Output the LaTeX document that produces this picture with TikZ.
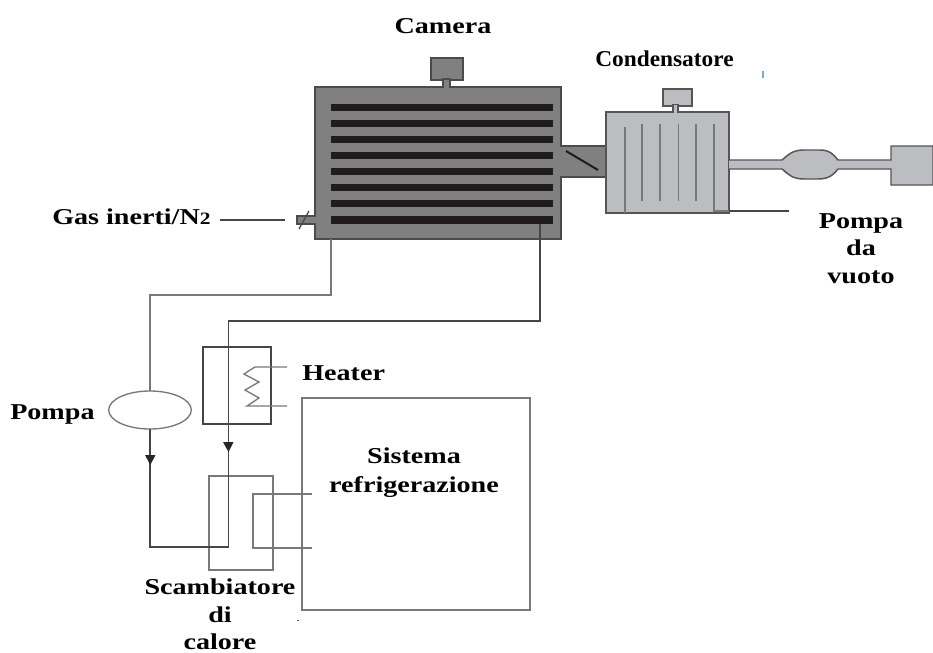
\documentclass[tikz,border=0pt]{standalone}
\usepackage{fontspec}
\setmainfont{Liberation Serif}
\newfontfamily\lblfam[FakeStretch=1.24]{Liberation Serif}
\newfontfamily\condfam[FakeStretch=1.03]{Liberation Serif}
\usetikzlibrary{shapes.geometric}
\definecolor{chgray}{RGB}{128,128,128}
\definecolor{chedge}{RGB}{75,75,75}
\definecolor{shelfc}{RGB}{32,28,30}
\definecolor{congray}{RGB}{188,189,192}
\definecolor{ctredge}{RGB}{85,85,85}
\definecolor{pipeg}{RGB}{120,120,120}
\definecolor{darkline}{RGB}{70,70,70}
\definecolor{speck}{RGB}{120,170,215}
\tikzset{
  lbl/.style={font=\lblfam\bfseries\fontsize{17}{20.6}\selectfont,inner sep=0pt,align=center,text=black},
  chfill/.style={fill=chgray,draw=chedge,line width=1.1pt},
  cofill/.style={fill=congray,draw=ctredge,line width=1.1pt},
  shelfbar/.style={fill=shelfc,draw=none},
  finline/.style={draw=pipeg,line width=1.3pt},
  flow/.style={draw=darkline,line width=1.3pt},
  thingray/.style={draw=pipeg,line width=1pt},
  boxnode/.style={inner sep=0pt,outer sep=0pt,anchor=north west}
}
\begin{document}
\begin{tikzpicture}[x=0.75pt,y=-0.75pt]
\useasboundingbox (0,0) rectangle (933,653);
% duct and chamber
\path[chfill] (561,146) rectangle (606,177);
\path[chfill] (431,58) rectangle (463,80);
\path[chfill] (443,79) rectangle (450,88);
\path[chfill] (297,216) rectangle (318,224);
\node[chfill,boxnode,minimum width=184.5pt,minimum height=114pt] (chamber) at (315,87) {};
\fill[chgray] (443.8,80) rectangle (449.2,89);
\fill[chgray] (558,146.8) rectangle (562,176.2);
\fill[chgray] (312,216.8) rectangle (317,223.2);
\foreach \yy in {107.7,123.7,139.7,155.7,171.7,187.7,203.7}
  \fill[shelfbar] (331,\yy-3.6) rectangle (553,\yy+3.6);
\fill[shelfbar] (331,216.3) rectangle (553,224);
\draw[draw=shelfc,line width=1.5pt] (566,151) -- (598,170);
\draw[draw=chedge,line width=1pt] (299,229) -- (309,211);
\coordinate (gasend) at (285,220);
\coordinate (gasstart) at (220,220);
\draw[draw=darkline,line width=.8pt] (gasstart) -- (gasend);
% condenser
\path[cofill] (663,89) rectangle (692,106);
\path[cofill] (673,105) rectangle (678,113);
\node[cofill,boxnode,minimum width=92.25pt,minimum height=75.75pt] (cond) at (606,112) {};
\fill[congray] (673.7,105) rectangle (677.3,113);
\foreach \xx in {642,660,678.5,696}
  \draw[finline] (\xx,124) -- (\xx,201);
\draw[finline] (625,127) -- (625,213);
\draw[finline] (714,124) -- (714,211) -- (729,211);
\draw[draw=darkline,line width=.8pt] (729,211) -- (789,211);
% vacuum line
\path[cofill] (729,160) -- (782,160) .. controls (788,155) and (792,150) .. (804,150) -- (820,150) .. controls (830,150) and (834,155) .. (838,160)
 -- (891,160) -- (891,146) -- (933,146) -- (933,185) -- (891,185) -- (891,169) -- (838,169) .. controls (834,174) and (830,179) .. (818,179) -- (804,179) .. controls (792,179) and (788,174) .. (782,169) -- (729,169);
% loops
\node[draw=pipeg,line width=1pt,shape=ellipse,minimum width=62pt,minimum height=28.5pt,inner sep=0pt,outer sep=0pt] (pump) at (150,410) {};
\node[boxnode,draw=darkline,line width=1pt,minimum width=51pt,minimum height=57.75pt] (heater) at (203,347) {};
\node[boxnode,draw=pipeg,line width=1pt,minimum width=48pt,minimum height=70.5pt] (hx) at (209,476) {};
\node[boxnode,draw=pipeg,line width=1pt,minimum width=171pt,minimum height=159pt] (fridge) at (302,398) {};
\coordinate (c1a) at (331,239);
\coordinate (c1b) at (331,295);
\coordinate (c1c) at (150,295);
\draw[thingray] (c1a) -- (c1b) -- (c1c) -- (pump.north);
\coordinate (c2a) at (540,224);
\coordinate (c2b) at (540,321);
\coordinate (c2c) at (228.5,321);
\coordinate (c2d) at (228.5,547);
\coordinate (c2e) at (150,547);
\draw[flow] (pump.south) -- (c2e) -- (c2d);
\draw[flow] (c2a) -- (c2b) -- (c2c) -- (c2d);
\fill[black!85] (145,455) -- (155.5,455) -- (150.3,465) -- cycle;
\fill[black!85] (223,442) -- (233.5,442) -- (228.5,452) -- cycle;
% heater coil
\draw[thingray] (287,367) -- (255,367) -- (244,374) -- (259,382) -- (245,390) -- (259,398) -- (247,406) -- (287,406);
% fridge loop
\draw[thingray] (312,494) -- (253,494) -- (253,548) -- (312,548);
% specks
\draw[speck,line width=.8pt] (763,71) -- (763,78);
\fill[speck!60!black] (296.5,619.5) rectangle (298.5,621);
% labels
\node[lbl] at (443,26) {Camera};
\node[lbl,font=\condfam\bfseries\fontsize{17}{20.6}\selectfont] at (664.5,58.5) {Condensatore};
\node[lbl,anchor=west] at (52,217) {Gas inerti/N{\fontsize{13}{14}\selectfont 2}};
\node[lbl] at (861,248.5) {Pompa\\da\\vuoto};
\node[lbl,anchor=west] at (302,373.5) {Heater};
\node[lbl,anchor=west] at (10,414) {Pompa};
\node[lbl] at (414,473) {Sistema\\[1pt]refrigerazione};
\node[lbl] at (220,614.5) {Scambiatore\\di\\calore};
\end{tikzpicture}
\end{document}
